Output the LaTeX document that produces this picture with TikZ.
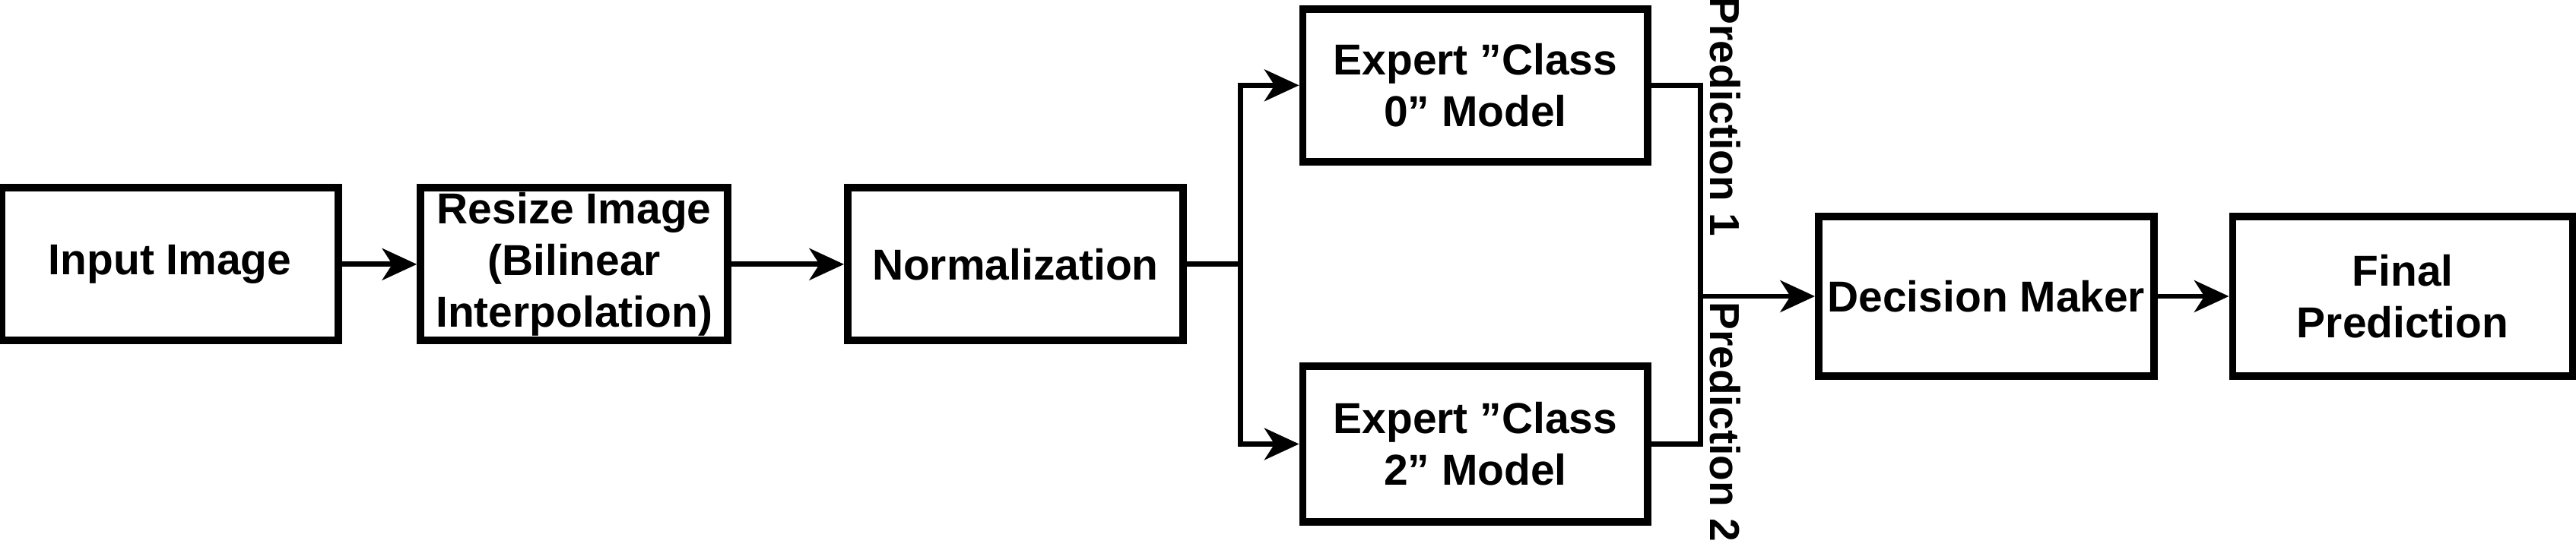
\documentclass[tikz,border=0pt]{standalone}
\usepackage{fontspec}
\setmainfont{Liberation Sans}
\usetikzlibrary{arrows.meta}
\begin{document}
\begin{tikzpicture}[x=0.02cm,y=0.02cm,
  blk/.style={draw,line width=2.6pt,minimum height=1.86cm,align=center,font=\fontsize{15}{18}\selectfont\bfseries,inner sep=0pt},
  con/.style={line width=1.8pt,-{Stealth[length=12pt,width=11pt,inset=3.5pt]}},
  lab/.style={rotate=-90,font=\fontsize{14.5}{16}\selectfont\bfseries}]
\useasboundingbox (0,0) rectangle (1568,333);
\node[blk,minimum width=4.1cm] (in) at (103.5,172) {Input Image};
\node[blk,minimum width=3.74cm] (rs) at (349.5,172) {Resize Image\\(Bilinear\\Interpolation)};
\node[blk,minimum width=4.08cm] (nm) at (618,172) {Normalization};
\node[blk,minimum width=4.2cm] (e0) at (898,281) {Expert {\char34}Class\\0{\char34} Model};
\node[blk,minimum width=4.2cm,minimum height=1.9cm] (e2) at (898,62.5) {Expert {\char34}Class\\2{\char34} Model};
\node[blk,minimum width=4.08cm,minimum height=1.94cm] (dm) at (1209,152.5) {Decision Maker};
\node[blk,minimum width=4.14cm,minimum height=1.94cm] (fp) at (1462.5,152.5) {Final\\Prediction};
\coordinate (br) at (755,172);
\coordinate (jn) at (1035,152.5);
\draw[con] (in) -- (rs);
\draw[con] (rs) -- (nm);
\draw[line width=1.8pt] (nm.east) -- (br);
\draw[con] (br) |- (e0.west);
\draw[con] (br) |- (e2.west);
\draw[line width=1.8pt] (e0.east) -| (jn);
\draw[line width=1.8pt] (e2.east) -| (jn);
\draw[con] (jn) -- (dm);
\draw[con] (dm) -- (fp);
\node[lab] (p1) at (1050,262) {Prediction 1};
\node[lab] (p2) at (1050,76) {Prediction 2};
\end{tikzpicture}
\end{document}
